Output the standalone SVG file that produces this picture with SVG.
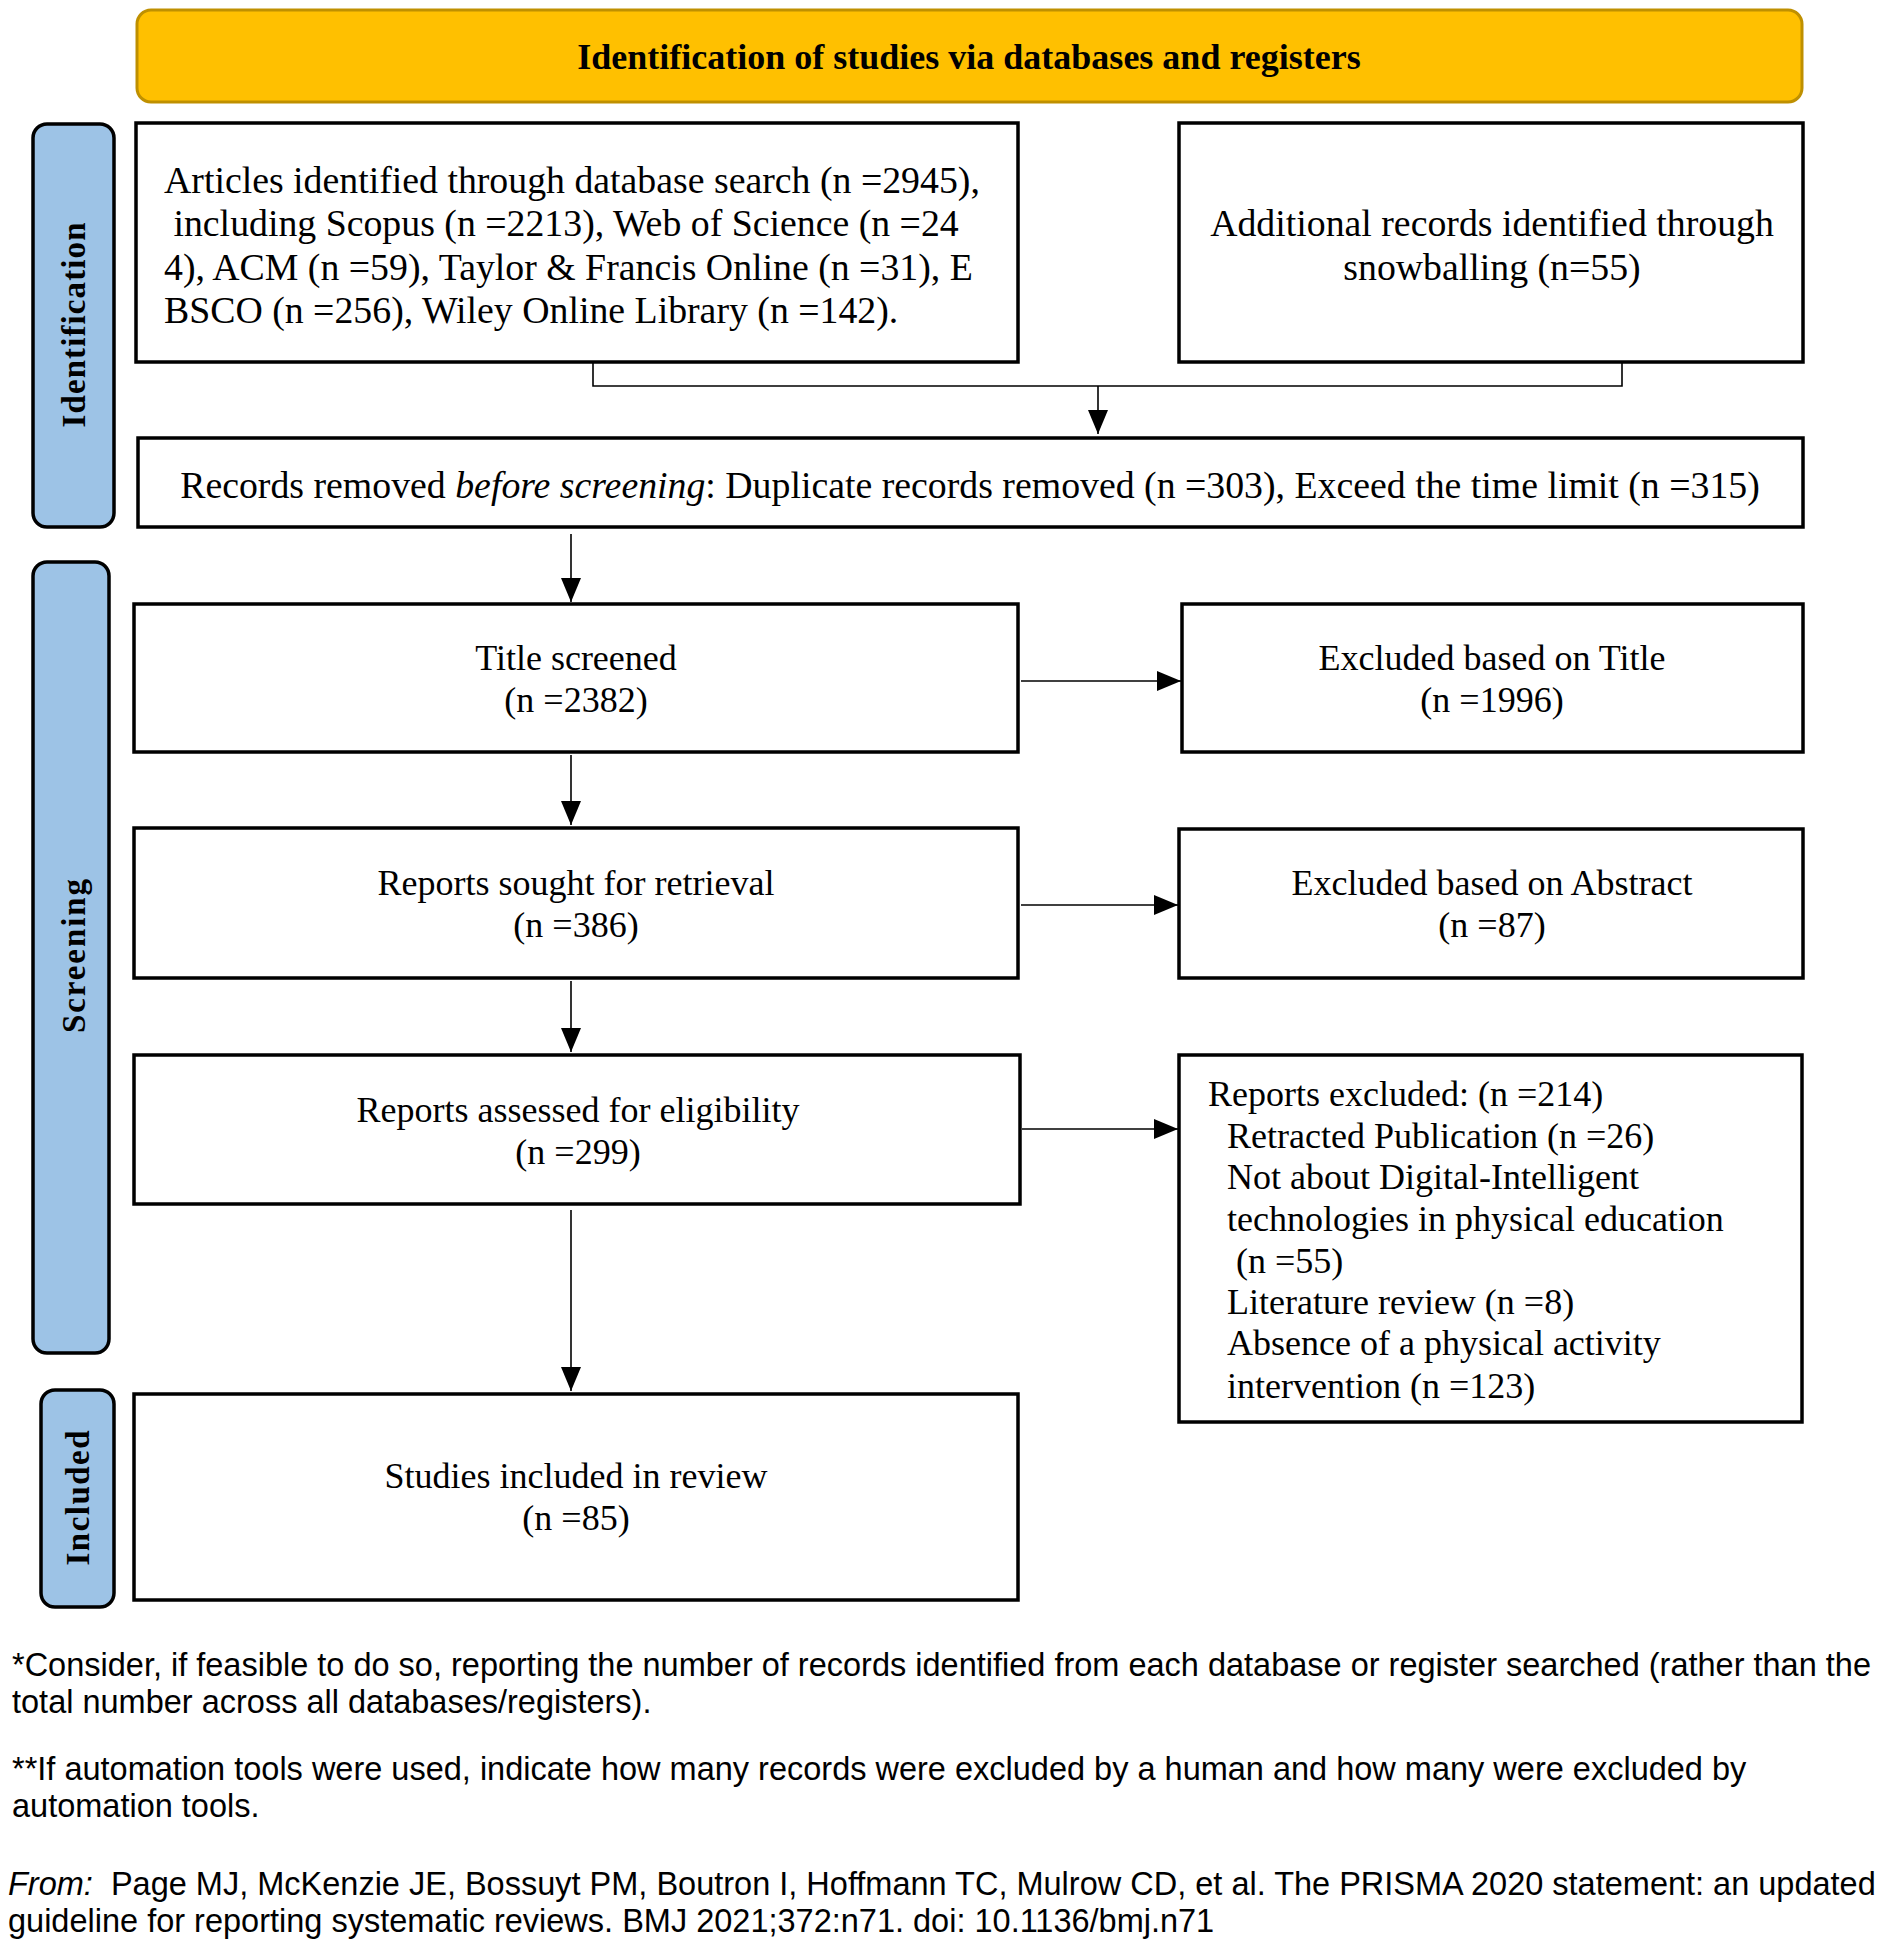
<svg xmlns="http://www.w3.org/2000/svg" width="1899" height="1946" viewBox="0 0 1899 1946">
<style>
.box{fill:#fff;stroke:#000;stroke-width:3.5}
.side{fill:#9DC3E6;stroke:#000;stroke-width:3.5}
.t{font-family:"Liberation Serif","Times New Roman",serif;font-size:36px;fill:#000}
.tl{font-size:37.8px}
.c{text-anchor:middle}
.sl{font-family:"Liberation Serif","Times New Roman",serif;font-size:33px;font-weight:bold;fill:#000;text-anchor:middle}
.f{font-family:"Liberation Sans",Arial,sans-serif;font-size:32.5px;fill:#000}
.ln{fill:none;stroke:#000;stroke-width:1.6}
</style>
<defs>
<marker id="ah2" viewBox="0 0 10 10" refX="10" refY="5" markerWidth="24" markerHeight="20" markerUnits="userSpaceOnUse" orient="auto" preserveAspectRatio="none">
<path d="M0,0 L10,5 L0,10 Z" fill="#000"/>
</marker>
</defs>

<g id="banner">
<rect x="137" y="10" width="1665" height="92" rx="14" fill="#FFC000" stroke="#BF9000" stroke-width="3"/>
<text class="t c" x="969" y="69" font-weight="bold" font-size="36px">Identification of studies via databases and registers</text>
</g>

<g id="side-identification">
<rect class="side" x="33" y="124" width="81" height="403" rx="14"/>
<text class="sl" transform="translate(85,325) rotate(-90)" textLength="205" lengthAdjust="spacing">Identification</text>
</g>
<g id="side-screening">
<rect class="side" x="33" y="562" width="76" height="791" rx="14"/>
<text class="sl" transform="translate(85,956) rotate(-90)" textLength="154" lengthAdjust="spacing">Screening</text>
</g>
<g id="side-included">
<rect class="side" x="41" y="1390" width="73" height="217" rx="14"/>
<text class="sl" transform="translate(89,1498) rotate(-90)" textLength="135" lengthAdjust="spacing">Included</text>
</g>

<g id="n-articles">
<rect class="box" x="136" y="123" width="882" height="239"/>
<text class="t tl" x="164" y="193">Articles identified through database search (n =2945),</text>
<text class="t tl" x="164" y="236" xml:space="preserve"> including Scopus (n =2213), Web of Science (n =24</text>
<text class="t tl" x="164" y="280">4), ACM (n =59), Taylor &amp; Francis Online (n =31), E</text>
<text class="t tl" x="164" y="323">BSCO (n =256), Wiley Online Library (n =142).</text>
</g>

<g id="n-additional">
<rect class="box" x="1179" y="123" width="624" height="239"/>
<text class="t tl c" x="1492" y="236">Additional records identified through</text>
<text class="t tl c" x="1492" y="280">snowballing (n=55)</text>
</g>

<g id="n-removed">
<rect class="box" x="138" y="438" width="1665" height="89"/>
<text class="t tl c" x="970" y="498">Records removed <tspan font-style="italic">before screening</tspan>: Duplicate records removed (n =303), Exceed the time limit (n =315)</text>
</g>

<g id="n-title">
<rect class="box" x="134" y="604" width="884" height="148"/>
<text class="t c" x="576" y="670">Title screened</text>
<text class="t c" x="576" y="712">(n =2382)</text>
</g>

<g id="n-excl-title">
<rect class="box" x="1182" y="604" width="621" height="148"/>
<text class="t c" x="1492" y="670">Excluded based on Title</text>
<text class="t c" x="1492" y="712">(n =1996)</text>
</g>

<g id="n-sought">
<rect class="box" x="134" y="828" width="884" height="150"/>
<text class="t c" x="576" y="895">Reports sought for retrieval</text>
<text class="t c" x="576" y="937">(n =386)</text>
</g>

<g id="n-excl-abstract">
<rect class="box" x="1179" y="829" width="624" height="149"/>
<text class="t c" x="1492" y="895">Excluded based on Abstract</text>
<text class="t c" x="1492" y="937">(n =87)</text>
</g>

<g id="n-assessed">
<rect class="box" x="134" y="1055" width="886" height="149"/>
<text class="t c" x="578" y="1122">Reports assessed for eligibility</text>
<text class="t c" x="578" y="1164">(n =299)</text>
</g>

<g id="n-excluded">
<rect class="box" x="1179" y="1055" width="623" height="367"/>
<text class="t" x="1208" y="1106">Reports excluded: (n =214)</text>
<text class="t" x="1227" y="1148">Retracted Publication (n =26)</text>
<text class="t" x="1227" y="1189">Not about Digital-Intelligent</text>
<text class="t" x="1227" y="1231">technologies in physical education</text>
<text class="t" x="1227" y="1273" xml:space="preserve"> (n =55)</text>
<text class="t" x="1227" y="1314">Literature review (n =8)</text>
<text class="t" x="1227" y="1355">Absence of a physical activity</text>
<text class="t" x="1227" y="1398">intervention (n =123)</text>
</g>

<g id="n-included">
<rect class="box" x="134" y="1394" width="884" height="206"/>
<text class="t c" x="576" y="1488">Studies included in review</text>
<text class="t c" x="576" y="1530">(n =85)</text>
</g>

<g id="connectors">
<polyline class="ln" points="593,362 593,386 1622,386 1622,362"/>
<line class="ln" x1="1098" y1="386" x2="1098" y2="434" marker-end="url(#ah2)"/>
<line class="ln" x1="571" y1="534" x2="571" y2="602" marker-end="url(#ah2)"/>
<line class="ln" x1="571" y1="755" x2="571" y2="825" marker-end="url(#ah2)"/>
<line class="ln" x1="571" y1="981" x2="571" y2="1052" marker-end="url(#ah2)"/>
<line class="ln" x1="571" y1="1210" x2="571" y2="1391" marker-end="url(#ah2)"/>
<line class="ln" x1="1021" y1="681" x2="1181" y2="681" marker-end="url(#ah2)"/>
<line class="ln" x1="1021" y1="905" x2="1178" y2="905" marker-end="url(#ah2)"/>
<line class="ln" x1="1022" y1="1129" x2="1178" y2="1129" marker-end="url(#ah2)"/>
</g>

<g id="footer">
<text class="f" x="12" y="1676">*Consider, if feasible to do so, reporting the number of records identified from each database or register searched (rather than the</text>
<text class="f" x="12" y="1713">total number across all databases/registers).</text>
<text class="f" x="12" y="1780">**If automation tools were used, indicate how many records were excluded by a human and how many were excluded by</text>
<text class="f" x="12" y="1817">automation tools.</text>
<text class="f" x="8" y="1895" xml:space="preserve"><tspan font-style="italic">From:</tspan>  Page MJ, McKenzie JE, Bossuyt PM, Boutron I, Hoffmann TC, Mulrow CD, et al. The PRISMA 2020 statement: an updated</text>
<text class="f" x="8" y="1932">guideline for reporting systematic reviews. BMJ 2021;372:n71. doi: 10.1136/bmj.n71</text>
</g>
</svg>
